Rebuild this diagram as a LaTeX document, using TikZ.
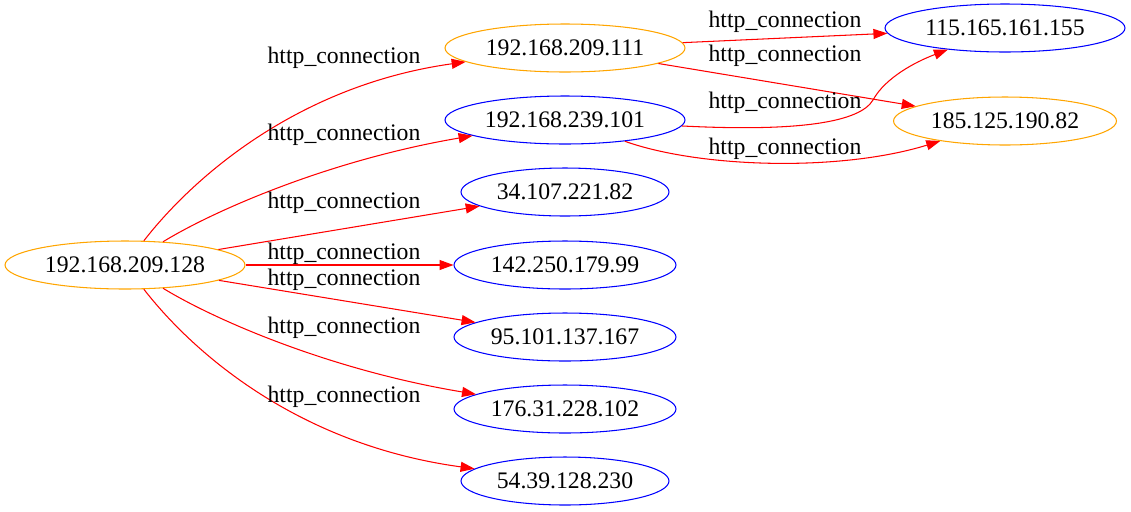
\documentclass[tikz,border=0pt]{standalone}
\usepackage{fontspec}
\setmainfont{Liberation Serif}
\usepackage{tikz}
\usetikzlibrary{shapes.geometric, arrows.meta, positioning}

\begin{document}
\begin{tikzpicture}[x=0.02cm, y=-0.02cm]
    \tikzstyle{host} = [ellipse, draw, line width=0.6pt, inner sep=0pt, minimum height=0.96cm, font=\fontsize{13.5}{15}\selectfont]
    \tikzstyle{src} = [host, draw={rgb,255:red,255;green,165;blue,0}]
    \tikzstyle{dst} = [host, draw={rgb,255:red,0;green,0;blue,255}]
    \tikzstyle{lbl} = [font=\fontsize{13.5}{15}\selectfont, inner sep=0pt]
    \tikzstyle{line} = [draw=red, line width=0.6pt, -{Triangle[length=0.28cm, width=0.2cm, fill=red]}]

    \useasboundingbox (0,0) rectangle (1131,511);

    \node [src, minimum width=4.8cm] (h128) at (125,265) {192.168.209.128};
    \node [src, minimum width=4.8cm] (h111) at (565,48) {192.168.209.111};
    \node [dst, minimum width=4.8cm] (h101) at (565,120) {192.168.239.101};
    \node [dst, minimum width=4.16cm] (h34) at (565,192) {34.107.221.82};
    \node [dst, minimum width=4.44cm] (h142) at (565,265) {142.250.179.99};
    \node [dst, minimum width=4.44cm] (h95) at (565,337) {95.101.137.167};
    \node [dst, minimum width=4.44cm] (h176) at (565,409) {176.31.228.102};
    \node [dst, minimum width=4.16cm] (h54) at (565,481) {54.39.128.230};
    \node [dst, minimum width=4.8cm] (h115) at (1005,28) {115.165.161.155};
    \node [src, minimum width=4.46cm] (h185) at (1005,121) {185.125.190.82};

    \path [line] (h128) .. controls (195,175) and (300,85) .. (h111);
    \path [line] (h128) .. controls (215,210) and (330,160) .. (h101);
    \path [line] (h128) -- (h34);
    \path [line] (h128) -- (h142);
    \path [line] (h128) -- (h95);
    \path [line] (h128) .. controls (215,320) and (330,370) .. (h176);
    \path [line] (h128) .. controls (195,355) and (300,445) .. (h54);
    \path [line] (h111) -- (h115);
    \path [line] (h111) -- (h185);
    \path [line] (h101) .. controls (800,132) and (860,122) .. (873,100) .. controls (885,78) and (915,62) .. (h115);
    \path [line] (h101) .. controls (700,168) and (840,172) .. (h185);

    \node [lbl] (l111) at (344,58) {http\_connection};
    \node [lbl] (l101) at (344,135) {http\_connection};
    \node [lbl] (l34) at (344,203) {http\_connection};
    \node [lbl] (l142) at (344,254) {http\_connection};
    \node [lbl] (l95) at (344,280) {http\_connection};
    \node [lbl] (l176) at (344,328) {http\_connection};
    \node [lbl] (l54) at (344,397) {http\_connection};
    \node [lbl] (l115a) at (785,22) {http\_connection};
    \node [lbl] (l185a) at (785,56) {http\_connection};
    \node [lbl] (l115b) at (785,103) {http\_connection};
    \node [lbl] (l185b) at (785,149) {http\_connection};
\end{tikzpicture}
\end{document}
